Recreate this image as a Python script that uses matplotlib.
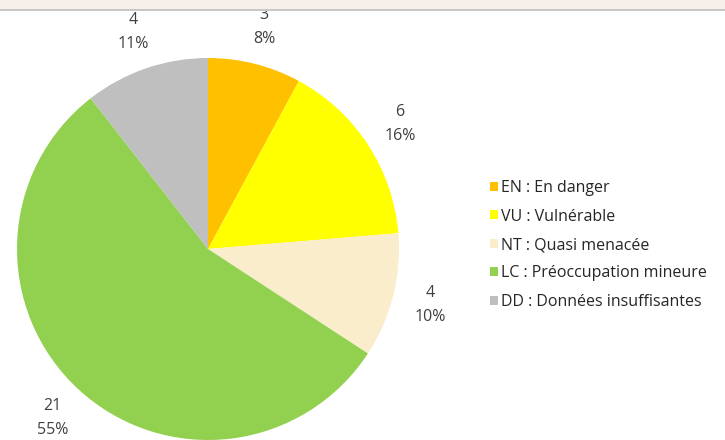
import matplotlib
matplotlib.use("Agg")
import matplotlib.pyplot as plt
from matplotlib.patches import Rectangle

categories = ["EN : En danger", "VU : Vulnérable", "NT : Quasi menacée",
              "LC : Préoccupation mineure", "DD : Données insuffisantes"]
counts = [3, 6, 4, 21, 4]
percents = ["8%", "16%", "10%", "55%", "11%"]
colors = ["#FFC000", "#FFFF00", "#F9EDCC", "#92D050", "#BFBFBF"]

plt.rcParams['font.family'] = ['Open Sans', 'DejaVu Sans']

fig = plt.figure(figsize=(7.25, 4.4), dpi=100)
fig.patch.set_facecolor("white")
# bandeau en haut de la capture
fig.patches.append(Rectangle((0, 1 - 9 / 440), 1, 9 / 440, transform=fig.transFigure,
                             facecolor="#F6EEE8", edgecolor="none"))
fig.patches.append(Rectangle((0, 1 - 11 / 440), 1, 2 / 440, transform=fig.transFigure,
                             facecolor="#C8C8C8", edgecolor="none"))

ax = fig.add_axes([0, 0, 1, 1])
ax.set_xlim(0, 725)
ax.set_ylim(0, 440)
ax.set_aspect("equal")
ax.axis("off")

labels = [f"{c}\n{p}" for c, p in zip(counts, percents)]
wedges, texts = ax.pie(counts, colors=colors, startangle=90, counterclock=False,
                       center=(208, 191), radius=191, labels=labels, labeldistance=1.2,
                       wedgeprops=dict(linewidth=0),
                       textprops=dict(fontsize=11.5, color="#404040", linespacing=1.65))
ax.set_xlim(0, 725)
ax.set_ylim(0, 440)
for t in texts:
    t.set_ha("center")
    t.set_va("center")

leg = ax.legend(wedges, categories, loc="center left", bbox_to_anchor=(490 / 725, 1 - 245 / 440),
                bbox_transform=fig.transFigure, frameon=False, fontsize=11.5,
                handlelength=0.5, handleheight=0.5, handletextpad=0.2,
                labelspacing=0.78, borderaxespad=0, borderpad=0)
for t in leg.get_texts():
    t.set_color("#262626")

fig.savefig("out.png", dpi=100)
